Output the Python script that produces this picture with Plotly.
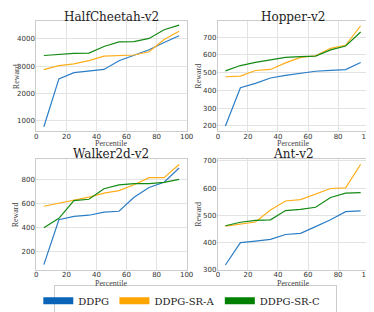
import plotly.graph_objects as go
from plotly.subplots import make_subplots

percentile = [5, 15, 25, 35, 45, 55, 65, 75, 85, 95]
series_names = ["DDPG", "DDPG-SR-A", "DDPG-SR-C"]
colors = ["#2a7dc6", "#ffae1a", "#138a13"]
legend_colors = ["#0a64b8", "#ffa500", "#008000"]

envs = ["HalfCheetah-v2", "Hopper-v2", "Walker2d-v2", "Ant-v2"]

halfcheetah_ddpg = [770, 2530, 2760, 2820, 2880, 3200, 3410, 3600, 3870, 4120]
halfcheetah_sra = [2870, 3020, 3080, 3200, 3370, 3390, 3410, 3530, 3980, 4280]
halfcheetah_src = [3390, 3440, 3470, 3480, 3720, 3890, 3900, 4020, 4340, 4510]

hopper_ddpg = [200, 415, 440, 470, 485, 498, 508, 513, 517, 557]
hopper_sra = [477, 481, 512, 518, 555, 586, 595, 637, 654, 764]
hopper_src = [510, 540, 558, 573, 586, 590, 593, 628, 650, 729]

walker_ddpg = [96, 467, 494, 504, 529, 537, 652, 733, 776, 894]
walker_sra = [578, 603, 627, 653, 686, 707, 756, 815, 815, 923]
walker_src = [400, 478, 625, 636, 723, 754, 765, 765, 776, 800]

ant_ddpg = [318, 400, 406, 412, 430, 434, 459, 484, 514, 517]
ant_sra = [461, 468, 476, 520, 553, 558, 578, 599, 601, 688]
ant_src = [462, 475, 482, 484, 518, 522, 530, 566, 582, 584]

data = [
    [halfcheetah_ddpg, halfcheetah_sra, halfcheetah_src],
    [hopper_ddpg, hopper_sra, hopper_src],
    [walker_ddpg, walker_sra, walker_src],
    [ant_ddpg, ant_sra, ant_src],
]
yranges = [[610, 4642], [171, 788], [52, 968], [300, 707]]
ytickvals = [[1000, 2000, 3000, 4000], [200, 300, 400, 500, 600, 700],
             [200, 400, 600, 800], [300, 400, 500, 600, 700]]

fig = make_subplots(rows=2, cols=2)

serif = "DejaVu Serif"
label_serif = "Liberation Serif"
sans = "DejaVu Sans"

H = 312.0
W = 374.0
xdom = [[27 / W, 181 / W], [213 / W, 367 / W]]
ydom = [[1 - 123.5 / H, 1 - 11.7 / H], [1 - 265 / H, 1 - 152 / H]]
xlabel_shift = [-12.5, -13.5]
ylabel_x = [6 / W, 193 / W]
title_top_px = [-1.0, 138.5]

for i in range(4):
    r, c = i // 2 + 1, i % 2 + 1
    for j in range(3):
        fig.add_trace(go.Scatter(x=percentile, y=data[i][j], mode="lines",
                                 line=dict(color=colors[j], width=1.2),
                                 showlegend=False), row=r, col=c)
    ax = "" if i == 0 else str(i + 1)
    fig.layout["xaxis" + ax].update(
        domain=xdom[c - 1], range=[0, 100], tickvals=[0, 20, 40, 60, 80, 100],
        showgrid=True, gridcolor="#e3e3e3", gridwidth=1, zeroline=False,
        showline=True, linecolor="#cccccc", mirror=True, ticks="",
        ticklabelstandoff=-2,
        tickfont=dict(family=sans, size=7, color="#333333"))
    fig.layout["yaxis" + ax].update(
        domain=ydom[r - 1], range=yranges[i], tickvals=ytickvals[i],
        showgrid=True, gridcolor="#e3e3e3", gridwidth=1, zeroline=False,
        showline=True, linecolor="#cccccc", mirror=True, ticks="",
        ticklabelstandoff=-1,
        tickfont=dict(family=sans, size=7, color="#333333"))
    fig.add_annotation(text="Percentile", x=sum(xdom[c - 1]) / 2, y=ydom[r - 1][0],
                       xref="paper", yref="paper", xanchor="center", yanchor="middle",
                       showarrow=False, yshift=xlabel_shift[r - 1],
                       font=dict(family=label_serif, size=8, color="#444444"))
    fig.add_annotation(text="Reward", x=ylabel_x[c - 1], y=sum(ydom[r - 1]) / 2,
                       xref="paper", yref="paper", xanchor="center", yanchor="middle",
                       showarrow=False, textangle=-90,
                       font=dict(family=label_serif, size=8, color="#444444"))

for i in range(4):
    r, c = i // 2 + 1, i % 2 + 1
    fig.add_annotation(text=envs[i], x=sum(xdom[c - 1]) / 2, y=1 - title_top_px[r - 1] / H,
                       xref="paper", yref="paper", xanchor="center", yanchor="top",
                       showarrow=False, borderpad=0,
                       font=dict(family=serif, size=12, color="#222222"))

# Frame of the legend: an empty first legend with a fixed entry width and a border,
# drawn beneath the three entry legends.
fig.add_trace(go.Scatter(x=[None], y=[None], mode="lines", name="\u00a0",
                         line=dict(color="rgba(0,0,0,0)", width=1),
                         showlegend=True, legend="legend", hoverinfo="skip"))

# one legend per entry so each can sit where the reference puts it
legend_names = ["legend2", "legend3", "legend4"]
legend_text_x = [69, 147, 255]
for j in range(3):
    fig.add_trace(go.Scatter(x=[None], y=[None], mode="lines", name=series_names[j],
                             line=dict(color=legend_colors[j], width=7),
                             showlegend=True, legend=legend_names[j]))

legend_style = dict(orientation="h", xanchor="left", y=1 - 296.5 / H, yanchor="middle",
                    bgcolor="rgba(0,0,0,0)", borderwidth=0,
                    font=dict(family=serif, size=10, color="#222222"),
                    itemwidth=30, tracegroupgap=0)
layout_legends = {}
for j in range(3):
    layout_legends[legend_names[j]] = dict(legend_style, x=(legend_text_x[j] - 40) / W)

layout_legends["legend"] = dict(orientation="h", xanchor="left", x=45 / W,
                                y=1 - 296.5 / H, yanchor="middle",
                                bgcolor="rgba(0,0,0,0)", bordercolor="#cccccc", borderwidth=1,
                                font=dict(family=serif, size=8, color="rgba(0,0,0,0)"),
                                itemwidth=30, tracegroupgap=0,
                                entrywidthmode="pixels", entrywidth=236)

fig.update_layout(
    width=374, height=312, margin=dict(l=0, r=0, t=0, b=0),
    paper_bgcolor="white", plot_bgcolor="white",
    **layout_legends,
)

fig.write_html("out.html")
